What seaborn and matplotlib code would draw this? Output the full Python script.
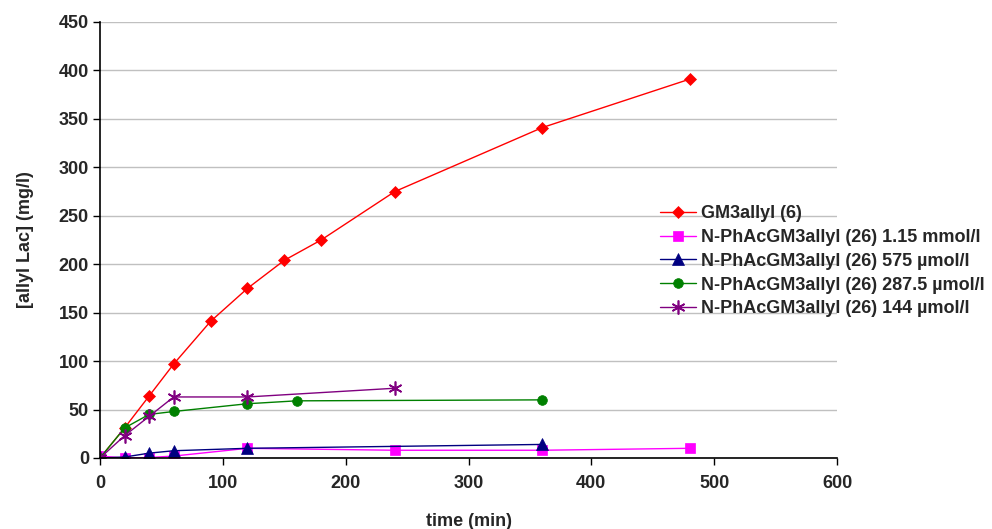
import matplotlib
matplotlib.use("Agg")
import matplotlib.pyplot as plt
import seaborn as sns
import pandas as pd

# ---- data ----
gm3_t = [0, 20, 40, 60, 90, 120, 150, 180, 240, 360, 480]
gm3_y = [0, 31, 64, 97, 141, 175, 204, 225, 275, 341, 391]

m115_t = [0, 20, 40, 60, 120, 240, 360, 480]
m115_y = [2, 0, 0.5, 2, 10, 8, 8, 10]

u575_t = [0, 20, 40, 60, 120, 360]
u575_y = [0, 1, 5, 7.5, 10, 14]

u2875_t = [0, 20, 40, 60, 120, 160, 360]
u2875_y = [0, 31, 45, 48, 56, 59, 60]

u144_t = [0, 20, 40, 60, 120, 240]
u144_y = [0, 23, 43, 63, 63, 72]

labels = ["GM3allyl (6)",
          "N-PhAcGM3allyl (26) 1.15 mmol/l",
          "N-PhAcGM3allyl (26) 575 µmol/l",
          "N-PhAcGM3allyl (26) 287.5 µmol/l",
          "N-PhAcGM3allyl (26) 144 µmol/l"]
x_ticks = [0, 100, 200, 300, 400, 500, 600]
y_ticks = [0, 50, 100, 150, 200, 250, 300, 350, 400, 450]

series = [(gm3_t, gm3_y), (m115_t, m115_y), (u575_t, u575_y),
          (u2875_t, u2875_y), (u144_t, u144_y)]

colors = ["#ff0000", "#ff00ff", "#000080", "#008000", "#800080"]
markers = ["D", "s", "^", "o", (6, 2, 0)]
msizes = [6, 7, 8, 7, 10]

sns.set_theme(style="white")
plt.rcParams['font.family'] = ['Liberation Sans', 'DejaVu Sans']
plt.rcParams['font.weight'] = 'bold'

FS = 13

fig = plt.figure(figsize=(9.92, 5.29), dpi=100)
ax = fig.add_axes([100/992, 1-458/529, (837-100)/992, (458-22)/529])

for (t, y), lab, c, m, ms in zip(series, labels, colors, markers, msizes):
    df = pd.DataFrame({"t": t, "y": y})
    sns.lineplot(data=df, x="t", y="y", ax=ax, color=c, marker=m,
                 markersize=ms, markeredgecolor=c,
                 markeredgewidth=1.2 if m == (6, 2, 0) else 0.5,
                 linewidth=1.0, alpha=1, label=lab, estimator=None, sort=False)

ax.set_xlim(0, 600)
ax.set_ylim(0, 450)
ax.set_xticks(x_ticks)
ax.set_yticks(y_ticks)
ax.yaxis.grid(True, color="#c0c0c0", linewidth=1)
ax.xaxis.grid(False)
ax.set_axisbelow(True)
for s in ["top", "right"]:
    ax.spines[s].set_visible(False)
for s in ["left", "bottom"]:
    ax.spines[s].set_color("black")
    ax.spines[s].set_linewidth(1.2)
ax.tick_params(axis="both", which="both", direction="out", length=5, width=1,
               color="black", labelsize=FS, pad=3, left=True, bottom=True)
for lbl in ax.get_xticklabels() + ax.get_yticklabels():
    lbl.set_fontweight("bold")
ax.tick_params(axis="x", pad=7)

ax.set_xlabel("time (min)", fontsize=FS, fontweight="bold", labelpad=15)
ax.set_ylabel("[allyl Lac] (mg/l)", fontsize=FS, fontweight="bold", labelpad=18)

leg = ax.legend(loc="upper left", bbox_to_anchor=(660/992, 1-205/529),
                bbox_transform=fig.transFigure, frameon=False,
                fontsize=FS, handlelength=2.0, labelspacing=0.38,
                handletextpad=0.25, borderaxespad=0, borderpad=0)
for txt in leg.get_texts():
    txt.set_fontweight("bold")

fig.savefig("out.png", dpi=100)
